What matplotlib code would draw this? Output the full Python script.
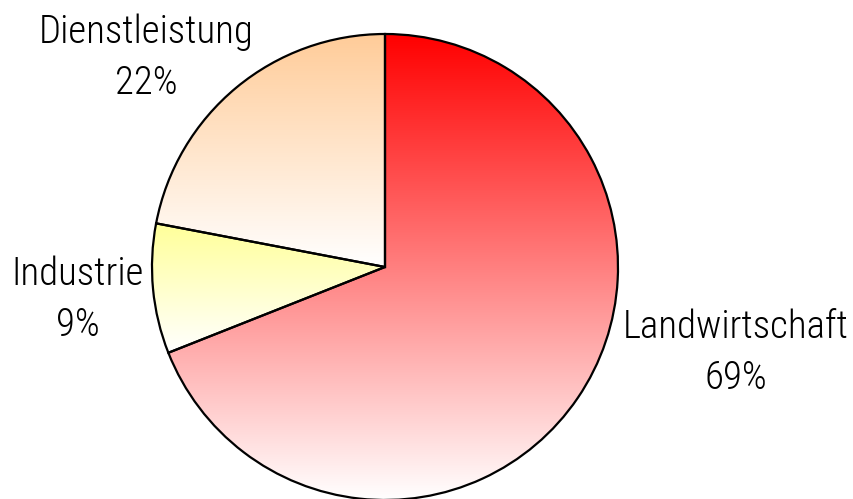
import matplotlib
matplotlib.use("Agg")
import matplotlib.pyplot as plt
import numpy as np
from matplotlib.colors import LinearSegmentedColormap

sectors = ["Landwirtschaft", "Industrie", "Dienstleistung"]
shares = [69, 9, 22]
top_colors = ["#ff0000", "#ffff99", "#ffcc99"]

fig = plt.figure(figsize=(8.54, 4.99), dpi=100)
ax = fig.add_axes([0, 0, 1, 1])

wedges, _ = ax.pie(shares, startangle=90, counterclock=False, center=(385, 232),
                   radius=233, frame=True,
                   wedgeprops=dict(facecolor="none", edgecolor="black", linewidth=1.6))

# vertical gradient from slice colour (top) to white (bottom), clipped to each wedge
grad = np.linspace(0, 1, 256).reshape(-1, 1)
for w, c in zip(wedges, top_colors):
    ext = w.get_path().get_extents(w.get_patch_transform())
    cmap = LinearSegmentedColormap.from_list("g", ["white", c])
    im = ax.imshow(grad, cmap=cmap, origin="lower", aspect="auto",
                   extent=[ext.x0, ext.x1, ext.y0, ext.y1], zorder=0)
    im.set_clip_path(w)

ax.set_xlim(0, 854)
ax.set_ylim(0, 499)
ax.set_aspect("equal")
ax.axis("off")

label_pos = {"Landwirtschaft": (736, 146), "Industrie": (78, 199), "Dienstleistung": (146, 441)}
for name, val in zip(sectors, shares):
    x, y = label_pos[name]
    ax.text(x, y, f"{name}\n{val}%", ha="center", va="center", fontsize=28,
            family="Roboto Condensed", fontweight="light", linespacing=1.45)

fig.savefig("out.png", dpi=100)
